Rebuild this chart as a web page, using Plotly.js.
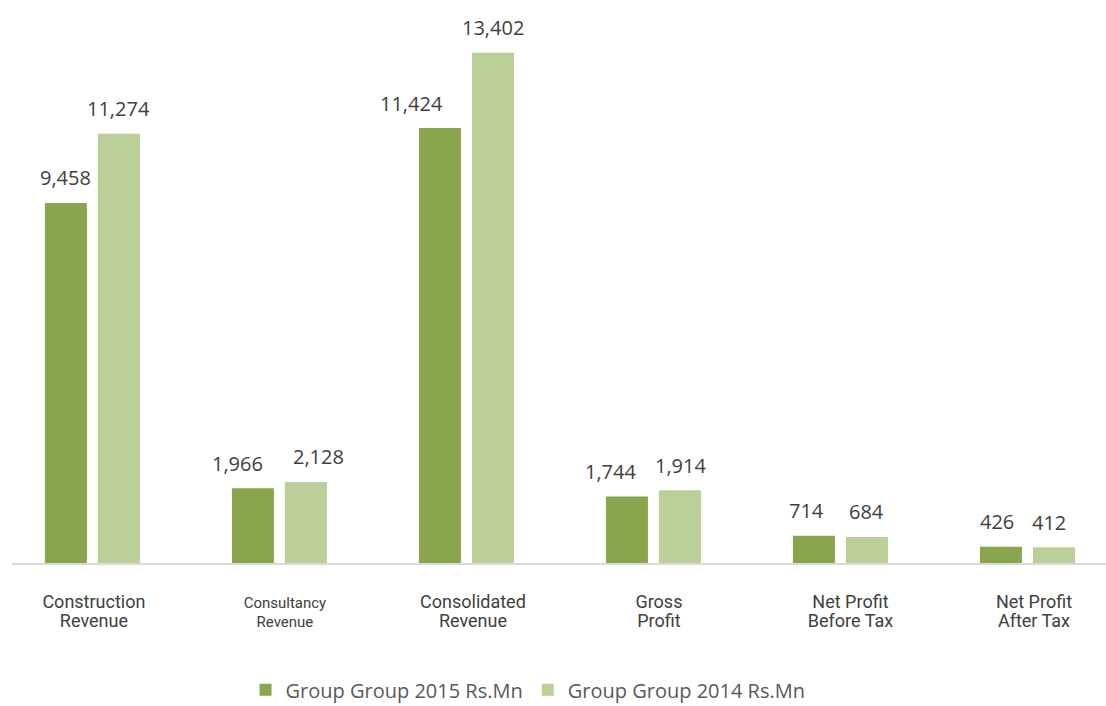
<!DOCTYPE html>
<html>
<head>
<meta charset="utf-8">
<script src="https://cdn.plot.ly/plotly-3.0.1.min.js"></script>
<style>html,body{margin:0;padding:0;background:#fff;}#chart{width:1106px;height:706px;}</style>
</head>
<body>
<div id="chart"></div>
<script>
const categories = ["Construction Revenue","Consultancy Revenue","Consolidated Revenue","Gross Profit","Net Profit Before Tax","Net Profit After Tax"];
const tickLine1 = ["Construction","<span style=\"font-size:15px\">Consultancy</span>","Consolidated","Gross","Net Profit","Net Profit"];
const tickLine2 = ["Revenue","<span style=\"font-size:15px\">Revenue</span>","Revenue","Profit","Before Tax","After Tax"];
const values2015 = [9458, 1966, 11424, 1744, 714, 426];
const values2014 = [11274, 2128, 13402, 1914, 684, 412];
const seriesNames = ["Group Group 2015 Rs.Mn","Group Group 2014 Rs.Mn"];
const colors = ["#89a54d","#bbd098"];
// label placement tweaks (px), as in the reference
const labelShift2015 = [0, -15, -28, -16, -7, -4];
const labelShift2014 = [0, 13, 0, 1, 0, -5];
const tickShiftPx = [1.5, 5.5, 6.5, 5.5, 10, 6.5];

const idx = categories.map((c,i)=>i);
const traces = [
  {type:'bar', x: idx, y: values2015, name: seriesNames[0], marker:{color:colors[0]}, hoverinfo:'none'},
  {type:'bar', x: idx, y: values2014, name: seriesNames[1], marker:{color:colors[1]}, hoverinfo:'none'}
];
const fmt = v => v.toLocaleString('en-US');
const annotations = [];
[[values2015, labelShift2015, -26.5], [values2014, labelShift2014, 26.5]].forEach(([vals, shifts, base]) => {
  vals.forEach((v,i) => {
    annotations.push({x:i, y:v, xref:'x', yref:'y', text: fmt(v), showarrow:false,
      xshift: base + shifts[i], yshift: 25, yanchor:'middle',
      font:{family:'Open Sans', size:20, color:'#404040'}});
  });
});
const xr = [-0.43, 5.42];
const pxPerCat = 187;
const tickPos = idx.map(i => i + tickShiftPx[i]/pxPerCat);
const tickFont = {family:'Roboto', size:18, color:'#404040'};
const layout = {
  width:1106, height:706,
  margin:{l:12, r:0, t:30, b:143, autoexpand:false},
  paper_bgcolor:'#fff', plot_bgcolor:'#fff',
  barmode:'group', bargap:0.433, bargroupgap:0.2075,
  showlegend:true,
  legend:{orientation:'h', x:0.4717, xanchor:'center', y:-0.238, yanchor:'middle',
    font:{family:'Open Sans', size:20, color:'#595959'}, itemclick:false, traceorder:'normal'},
  xaxis:{range:xr, tickvals: tickPos, ticktext: tickLine1, ticks:'', showgrid:false, automargin:false,
    zeroline:false, showline:true, linecolor:'#d9d9d9', linewidth:2, ticklabelstandoff:21,
    tickfont:tickFont, fixedrange:true},
  xaxis2:{range:xr, overlaying:'x', anchor:'y', side:'bottom', tickvals: tickPos, ticktext: tickLine2, ticks:'',
    showgrid:false, automargin:false, zeroline:false, showline:false, ticklabelstandoff:45,
    tickfont:tickFont, fixedrange:true},
  yaxis:{range:[0,14000], visible:false, showgrid:false, zeroline:false, fixedrange:true, automargin:false},
  annotations: annotations
};
traces.push({type:'scatter', x:[], y:[], xaxis:'x2', yaxis:'y', showlegend:false, hoverinfo:'none'});
Plotly.newPlot('chart', traces, layout, {displayModeBar:false, staticPlot:true});
</script>
</body>
</html>
